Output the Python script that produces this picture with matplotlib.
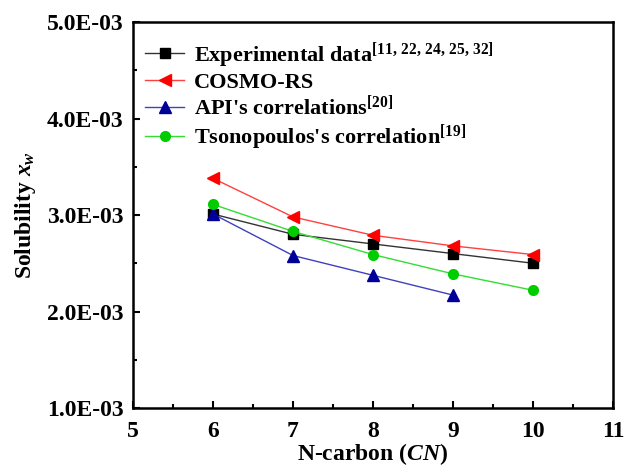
import matplotlib
matplotlib.use("Agg")
import matplotlib.pyplot as plt
from matplotlib.ticker import MultipleLocator, FuncFormatter

plt.rcParams['font.family'] = 'Liberation Serif'
plt.rcParams['font.weight'] = 'bold'
plt.rcParams['mathtext.fontset'] = 'custom'
plt.rcParams['mathtext.rm'] = 'Liberation Serif:bold'
plt.rcParams['mathtext.bf'] = 'Liberation Serif:bold'
plt.rcParams['mathtext.it'] = 'Liberation Serif:bold:italic'

cn_exp = [6, 7, 8, 9, 10]
exp_vals = [3.01e-3, 2.80e-3, 2.70e-3, 2.60e-3, 2.50e-3]
cn_cosmo = [6, 7, 8, 9, 10]
cosmo_vals = [3.38e-3, 2.98e-3, 2.79e-3, 2.68e-3, 2.59e-3]
cn_api = [6, 7, 8, 9]
api_vals = [3.01e-3, 2.58e-3, 2.375e-3, 2.17e-3]
cn_tson = [6, 7, 8, 9, 10]
tson_vals = [3.11e-3, 2.83e-3, 2.59e-3, 2.39e-3, 2.22e-3]

labels = [r"Experimental data$^{\mathrm{[11,\,22,\,24,\,25,\,32]}}$",
          "COSMO-RS",
          r"API's correlations$^{\mathrm{[20]}}$",
          r"Tsonopoulos's correlation$^{\mathrm{[19]}}$"]

fig = plt.figure(figsize=(6.25, 4.67), dpi=100)
ax = fig.add_axes([0.2128, 0.1263, 0.7682, 0.8266])

ax.plot(cn_exp, exp_vals, color='#333333', lw=1, marker='s', ms=7, mfc='black', mec='black', label=labels[0])
ax.plot(cn_cosmo, cosmo_vals, color='#ff4040', lw=1, marker='<', ms=9, mfc='red', mec='red', label=labels[1])
ax.plot(cn_api, api_vals, color='#4040c0', lw=1, marker='^', ms=8, mfc='#000099', mec='#000099', label=labels[2])
ax.plot(cn_tson, tson_vals, color='#33dd33', lw=1, marker='o', ms=7, mfc='#00cc00', mec='#00cc00', label=labels[3])

ax.set_xlim(5, 11)
ax.set_ylim(1.0e-3, 5.0e-3)
ax.xaxis.set_major_locator(MultipleLocator(1))
ax.xaxis.set_minor_locator(MultipleLocator(0.5))
ax.yaxis.set_major_locator(MultipleLocator(1e-3))
ax.yaxis.set_minor_locator(MultipleLocator(0.5e-3))
ax.yaxis.set_major_formatter(FuncFormatter(lambda v, p: f"{v:.1E}"))
ax.tick_params(which='both', direction='in', top=False, right=False, width=1.5)
ax.tick_params(which='major', length=5, labelsize=17)
ax.tick_params(which='minor', length=3)
ax.tick_params(axis='x', which='major', pad=9)
ax.tick_params(axis='y', which='major', pad=7)
for s in ax.spines.values():
    s.set_linewidth(1.8)

ax.set_xlabel(r"N-carbon ($CN$)", fontsize=17, fontweight='bold', labelpad=0)
ax.set_ylabel(r"Solubility $x_w$", fontsize=17, fontweight='bold', labelpad=6)

leg = ax.legend(loc='upper left', frameon=False, fontsize=16, handlelength=1.75,
                handletextpad=0.45, labelspacing=0.12, borderaxespad=0.15,
                bbox_to_anchor=(0.0, 0.985))

fig.savefig("out.png", dpi=100)
